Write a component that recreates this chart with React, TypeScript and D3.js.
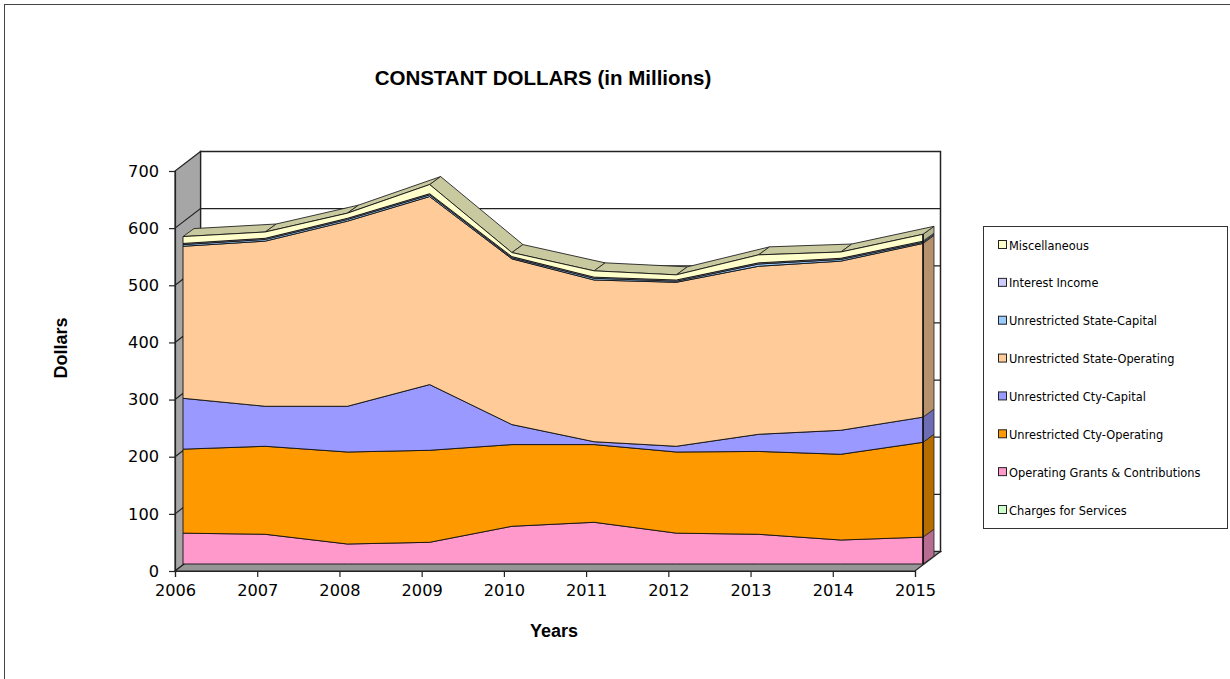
import * as d3 from "d3";
import {useRef, useEffect} from "react";

const years = [2006, 2007, 2008, 2009, 2010, 2011, 2012, 2013, 2014, 2015];
const yTicks = [0, 100, 200, 300, 400, 500, 600, 700];

// stacked from the bottom up
const charges = [0, 0, 0, 0, 0, 0, 0, 0, 0, 0];
const grants = [54, 52, 35, 38, 66, 73, 54, 52, 42, 47];
const ctyOperating = [147, 154, 161, 161, 143, 136, 142, 145, 150, 166];
const ctyCapital = [89, 70, 80, 115, 35, 5, 10, 30, 42, 44];
const stateOperating = [266, 289, 324, 329, 290, 283, 287, 294, 296, 304];
const stateCapital = [3, 3, 3, 3, 2, 3, 2, 4, 3, 2];
const interest = [2, 2, 2, 2, 2, 2, 2, 2, 2, 2];
const misc = [12, 11, 9, 16, 7, 11, 9, 14, 11, 12];

const seriesNames = [
    "Charges for Services",
    "Operating Grants & Contributions",
    "Unrestricted Cty-Operating",
    "Unrestricted Cty-Capital",
    "Unrestricted State-Operating",
    "Unrestricted State-Capital",
    "Interest Income",
    "Miscellaneous",
];
const seriesValues = [charges, grants, ctyOperating, ctyCapital, stateOperating, stateCapital, interest, misc];
const seriesColors = ["#CCFFCC", "#FF99CC", "#FF9900", "#9999FF", "#FFCC99", "#99CCFF", "#CCCCFF", "#FFFFCC"];

const TITLE_FONT = "'Liberation Sans', Arial, sans-serif";
const BODY_FONT = "'DejaVu Sans', sans-serif";

export default function App() {
    const containerRef = useRef<HTMLDivElement>(null);

    useEffect(() => {
        d3.select(containerRef.current).select("svg").remove();
        const width = 1230, height = 679;
        const svg = d3.select(containerRef.current)
            .append("svg")
            .attr("width", width)
            .attr("height", height)
            .style("position", "absolute")
            .style("left", 0)
            .style("top", 0);

        svg.append("rect").attr("width", width).attr("height", height).attr("fill", "white");

        // frame, only its top and left edge are inside the picture
        svg.append("rect")
            .attr("x", 4.5).attr("y", 4.5)
            .attr("width", width + 20).attr("height", height + 20)
            .attr("fill", "none").attr("stroke", "#444").attr("stroke-width", 1);

        // front-edge axis scales
        const x = d3.scaleLinear().domain([2006, 2015]).range([175, 915]);
        const y = d3.scaleLinear().domain([0, 700]).range([571, 171]);

        // oblique offsets of the 3D box
        const wall = {dx: 25.5, dy: -19.5};
        const front = {dx: 8, dy: -7};
        const depth = {dx: 11, dy: -8};

        const poly = d3.line<[number, number]>();
        const closed = (pts: [number, number][]) => poly(pts) + "Z";
        const edge = "#222";

        // back wall
        svg.append("rect")
            .attr("x", x(2006) + wall.dx).attr("y", y(700) + wall.dy)
            .attr("width", x(2015) - x(2006)).attr("height", y(0) - y(700))
            .attr("fill", "white").attr("stroke", edge).attr("stroke-width", 1.5);

        // left wall
        svg.append("path")
            .attr("d", closed([
                [x(2006), y(0)], [x(2006), y(700)],
                [x(2006) + wall.dx, y(700) + wall.dy], [x(2006) + wall.dx, y(0) + wall.dy],
            ]))
            .attr("fill", "#A6A6A6").attr("stroke", edge).attr("stroke-width", 1.2);

        // floor
        svg.append("path")
            .attr("d", closed([
                [x(2006), y(0)], [x(2015), y(0)],
                [x(2015) + wall.dx, y(0) + wall.dy], [x(2006) + wall.dx, y(0) + wall.dy],
            ]))
            .attr("fill", "#969696").attr("stroke", edge).attr("stroke-width", 1.2);

        // gridlines on both walls
        yTicks.slice(1, -1).forEach((t) => {
            svg.append("path")
                .attr("d", poly([
                    [x(2006), y(t)],
                    [x(2006) + wall.dx, y(t) + wall.dy],
                    [x(2015) + wall.dx, y(t) + wall.dy],
                ]))
                .attr("fill", "none").attr("stroke", edge).attr("stroke-width", 1.2);
        });

        // stacked layers on the front plane of the series
        const rows = years.map((year, i) => {
            const row: Record<string, number> = {year};
            seriesNames.forEach((name, s) => { row[name] = seriesValues[s][i]; });
            return row;
        });
        const layers = d3.stack<Record<string, number>>().keys(seriesNames)(rows);

        const px = (year: number) => x(year) + front.dx;
        const py = (v: number) => y(v) + front.dy;

        // right-hand end faces, darker than the layer
        layers.forEach((layer, s) => {
            const [y0, y1] = layer[layer.length - 1];
            if (y1 - y0 <= 0) return;
            const xr = px(2015);
            svg.append("path")
                .attr("d", closed([
                    [xr, py(y0)], [xr, py(y1)],
                    [xr + depth.dx, py(y1) + depth.dy], [xr + depth.dx, py(y0) + depth.dy],
                ]))
                .attr("fill", d3.rgb(seriesColors[s]).darker(0.95).formatHex())
                .attr("stroke", "#222").attr("stroke-width", 0.8);
        });

        // top face of the whole stack
        const top = layers[layers.length - 1];
        for (let i = 0; i < years.length - 1; i++) {
            const a: [number, number] = [px(years[i]), py(top[i][1])];
            const b: [number, number] = [px(years[i + 1]), py(top[i + 1][1])];
            svg.append("path")
                .attr("d", closed([
                    a, b,
                    [b[0] + depth.dx, b[1] + depth.dy], [a[0] + depth.dx, a[1] + depth.dy],
                ]))
                .attr("fill", "#C9C9A0").attr("stroke", "#222").attr("stroke-width", 0.9);
        }

        const area = d3.area<d3.SeriesPoint<Record<string, number>>>()
            .x((d) => px(d.data.year))
            .y0((d) => py(d[0]))
            .y1((d) => py(d[1]));

        layers.forEach((layer, s) => {
            svg.append("path")
                .attr("d", area(layer))
                .attr("fill", seriesColors[s])
                .attr("stroke", s === 0 ? "none" : "#111")
                .attr("stroke-width", 0.9);
        });
        // the stacked areas have no outline on their vertical ends in the original
        svg.append("path")
            .attr("d", closed([
                [px(2015), py(0)], [px(2015), py(top[top.length - 1][1])],
            ]))
            .attr("fill", "none").attr("stroke", "#111").attr("stroke-width", 0.9);

        // axes
        const xAxis = d3.axisBottom(x)
            .tickValues(years)
            .tickFormat((d) => String(d))
            .tickSize(6)
            .tickPadding(7);
        const yAxis = d3.axisLeft(y)
            .tickValues(yTicks)
            .tickSize(6)
            .tickPadding(10);

        const gx = svg.append("g").attr("transform", `translate(0,${y(0)})`).call(xAxis);
        const gy = svg.append("g").attr("transform", `translate(${x(2006)},0)`).call(yAxis);
        [gx, gy].forEach((g) => {
            g.selectAll("text")
                .style("font-family", BODY_FONT)
                .style("font-size", "16.2px")
                .attr("fill", "#000");
            g.selectAll("line,path").attr("stroke", edge).attr("stroke-width", 1.2);
        });

        // title and axis labels
        svg.append("text")
            .attr("x", 543).attr("y", 85)
            .attr("text-anchor", "middle")
            .style("font", `bold 20.5px ${TITLE_FONT}`)
            .text("CONSTANT DOLLARS (in Millions)");
        svg.append("text")
            .attr("x", 554).attr("y", 637)
            .attr("text-anchor", "middle")
            .style("font", `bold 18px ${TITLE_FONT}`)
            .text("Years");
        svg.append("text")
            .attr("transform", "translate(67,348) rotate(-90)")
            .attr("text-anchor", "middle")
            .style("font", `bold 18px ${TITLE_FONT}`)
            .text("Dollars");

        // legend, top entry is the top layer
        const legend = svg.append("g");
        legend.append("rect")
            .attr("x", 983.5).attr("y", 226.5)
            .attr("width", 244).attr("height", 302)
            .attr("fill", "white").attr("stroke", "#333").attr("stroke-width", 1);
        const legendY = d3.scalePoint<string>()
            .domain([...seriesNames].reverse())
            .range([245, 510]);
        seriesNames.forEach((name, s) => {
            const cy = legendY(name) as number;
            legend.append("rect")
                .attr("x", 998.5).attr("y", cy - 4.5)
                .attr("width", 8).attr("height", 8)
                .attr("fill", seriesColors[s]).attr("stroke", "#222").attr("stroke-width", 1);
            legend.append("text")
                .attr("x", 1009).attr("y", cy + 4.5)
                .style("font-family", BODY_FONT)
                .style("font-size", "11.4px")
                .attr("fill", "#000")
                .text(name);
        });
    });

    return <div ref={containerRef}></div>;
}
